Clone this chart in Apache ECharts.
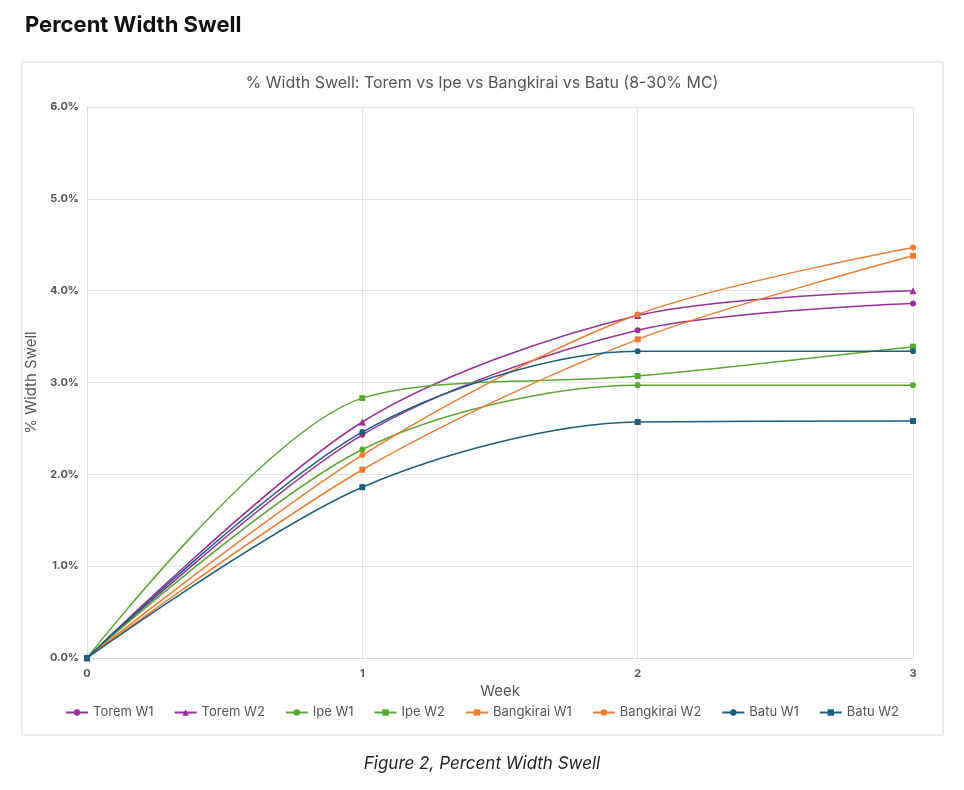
<!DOCTYPE html>
<html>
<head>
<meta charset="utf-8">
<script src="https://cdn.jsdelivr.net/npm/echarts@6/dist/echarts.min.js"></script>
<style>
  html, body { margin: 0; padding: 0; background: #fff; }
  #chart { width: 964px; height: 790px; }
</style>
</head>
<body>
<div id="chart"></div>
<script>
const weeks = [0, 1, 2, 3];
const toremW1 = [0, 2.43, 3.57, 3.86];
const toremW2 = [0, 2.57, 3.73, 4.00];
const ipeW1 = [0, 2.27, 2.97, 2.97];
const ipeW2 = [0, 2.83, 3.07, 3.39];
const bangkiraiW1 = [0, 2.05, 3.47, 4.38];
const bangkiraiW2 = [0, 2.21, 3.74, 4.47];
const batuW1 = [0, 2.46, 3.34, 3.34];
const batuW2 = [0, 1.86, 2.57, 2.58];

const purple = "#9b2f9b", green = "#5aa833", orange = "#f07c34", teal = "#1c5e80";

function mk(name, data, color, symbol) {
  return {
    name, type: "line", smooth: 0.3, symbol, symbolSize: symbol === "triangle" ? 7 : 6,
    data: weeks.map((w, i) => [w, data[i]]),
    itemStyle: { color }, lineStyle: { color, width: 1.5 }
  };
}

const chart = echarts.init(document.getElementById("chart"));
chart.setOption({
  animation: false,
  title: [
    { text: "Percent Width Swell", left: 20, top: 9,
      textStyle: { fontFamily: "Inter", fontSize: 22, fontWeight: "bold", color: "#111" } },
    { text: "% Width Swell: Torem vs Ipe vs Bangkirai vs Batu (8-30% MC)", left: "center", top: 70,
      textStyle: { fontFamily: "Inter", fontSize: 16, fontWeight: "normal", color: "#555" } },
    { text: "Figure 2, Percent Width Swell", left: "center", top: 750,
      textStyle: { fontFamily: "Inter", fontSize: 17, fontStyle: "italic", fontWeight: "normal", color: "#222" } }
  ],
  graphic: [{ type: "rect", shape: { x: 22, y: 62, width: 921, height: 673 },
    style: { fill: "none", stroke: "#d9d9d9", lineWidth: 1 }, silent: true }],
  grid: { left: 87, right: 51, top: 107, bottom: 132 },
  xAxis: {
    type: "value", min: 0, max: 3, interval: 1,
    name: "Week", nameLocation: "middle", nameGap: 8,
    nameTextStyle: { fontFamily: "Inter", fontSize: 15, color: "#555" },
    axisLine: { lineStyle: { color: "#d9d9d9" } }, axisTick: { show: false },
    axisLabel: { fontFamily: "Inter", fontWeight: "bold", fontSize: 11, color: "#555", margin: 10 },
    splitLine: { show: true, lineStyle: { color: "#e3e3e3" } }
  },
  yAxis: {
    type: "value", min: 0, max: 6, interval: 1,
    name: "% Width Swell", nameLocation: "middle", nameGap: 46,
    nameTextStyle: { fontFamily: "Inter", fontSize: 15, color: "#555" },
    axisLine: { show: true, lineStyle: { color: "#d9d9d9" } }, axisTick: { show: false },
    axisLabel: { fontFamily: "Inter", fontWeight: "bold", fontSize: 11, color: "#555",
      formatter: v => v.toFixed(1) + "%" },
    splitLine: { lineStyle: { color: "#e3e3e3" } }
  },
  legend: {
    bottom: 66, left: "center", itemWidth: 22, itemHeight: 8, itemGap: 20,
    textStyle: { fontFamily: "Inter", fontSize: 13, color: "#555" }
  },
  series: [
    mk("Torem W1", toremW1, purple, "circle"),
    mk("Torem W2", toremW2, purple, "triangle"),
    mk("Ipe W1", ipeW1, green, "circle"),
    mk("Ipe W2", ipeW2, green, "rect"),
    mk("Bangkirai W1", bangkiraiW1, orange, "rect"),
    mk("Bangkirai W2", bangkiraiW2, orange, "circle"),
    mk("Batu W1", batuW1, teal, "circle"),
    mk("Batu W2", batuW2, teal, "rect")
  ]
});
</script>
</body>
</html>
